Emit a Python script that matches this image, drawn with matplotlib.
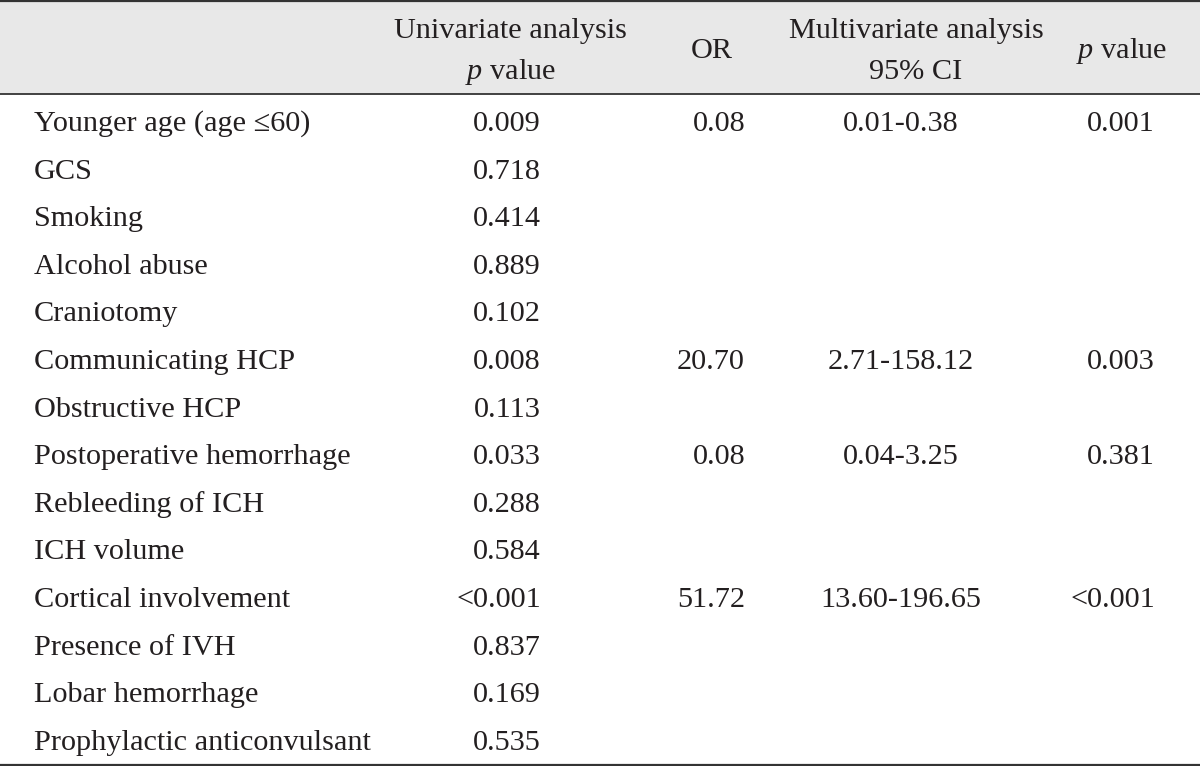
import matplotlib.pyplot as plt

# table contents
variables = ["Younger age (age \u226460)", "GCS", "Smoking", "Alcohol abuse", "Craniotomy",
             "Communicating HCP", "Obstructive HCP", "Postoperative hemorrhage",
             "Rebleeding of ICH", "ICH volume", "Cortical involvement", "Presence of IVH",
             "Lobar hemorrhage", "Prophylactic anticonvulsant"]
uni_p = ["0.009", "0.718", "0.414", "0.889", "0.102", "0.008", "0.113", "0.033",
         "0.288", "0.584", "<0.001", "0.837", "0.169", "0.535"]
odds = ["0.08", "", "", "", "", "20.70", "", "0.08", "", "", "51.72", "", "", ""]
ci95 = ["0.01-0.38", "", "", "", "", "2.71-158.12", "", "0.04-3.25", "", "",
        "13.60-196.65", "", "", ""]
multi_p = ["0.001", "", "", "", "", "0.003", "", "0.381", "", "", "<0.001", "", "", ""]

plt.rcParams['font.family'] = ['Liberation Serif', 'DejaVu Serif']
plt.rcParams['mathtext.fontset'] = 'custom'
plt.rcParams['mathtext.rm'] = 'Liberation Serif'
plt.rcParams['mathtext.it'] = 'Liberation Serif:italic'
fs = 21.8
tc = '#231f20'

fig = plt.figure(figsize=(12, 7.66), dpi=100)
ax = fig.add_axes([0, 0, 1, 1])
ax.set_xlim(0, 1200)
ax.set_ylim(766, 0)
ax.axis('off')

# header band and rules
ax.axhspan(1, 94, color='#e8e8e8', lw=0)
ax.axhline(1, color='#333333', lw=1.6)
ax.axhline(94, color='#333333', lw=1.3)
ax.axhline(764.5, color='#333333', lw=1.6)

# header
kw = dict(va='baseline', fontsize=fs, color=tc)
ax.text(510, 38, "Univariate analysis", ha='center', **kw)
ax.text(510, 79, "$p$ value", ha='center', **kw)
ax.text(712, 58, "OR", ha='center', **kw)
ax.text(916, 38, "Multivariate analysis", ha='center', **kw)
ax.text(916, 79, "95% CI", ha='center', **kw)
ax.text(1121, 58, "$p$ value", ha='center', **kw)

y0, dy = 131, 47.6
for i, name in enumerate(variables):
    y = y0 + i * dy
    ax.text(34, y, name, ha='left', **kw)
    ax.text(541, y, uni_p[i], ha='right', **kw)
    ax.text(745, y, odds[i], ha='right', **kw)
    ax.text(901, y, ci95[i], ha='center', **kw)
    ax.text(1155, y, multi_p[i], ha='right', **kw)

fig.savefig("out.png", dpi=100)
